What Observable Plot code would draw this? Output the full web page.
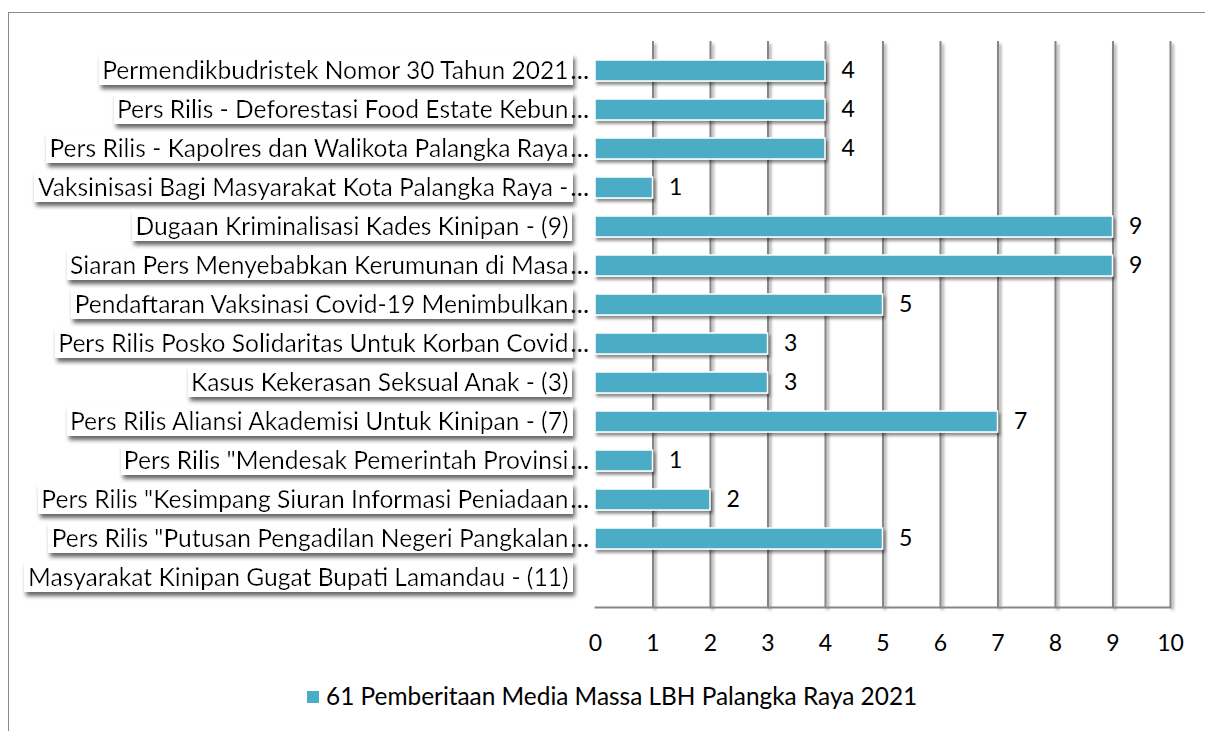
<!DOCTYPE html>
<html>
<head>
<meta charset="utf-8">
<script src="https://cdn.jsdelivr.net/npm/d3@7"></script>
<script src="https://cdn.jsdelivr.net/npm/@observablehq/plot@0.6"></script>
<style>
  html, body { margin: 0; padding: 0; background: #fff; overflow: hidden; width: 1205px; height: 731px; }
  #frame { position: absolute; left: 8px; top: 12px; width: 1210px; height: 740px; border: 1.5px solid #8a8a8a; box-sizing: border-box; }
  #chart { position: absolute; left: 0; top: 0; }
  #legend { position: absolute; left: 0; top: 681px; width: 1205px; font-family: Lato, sans-serif; font-size: 24.4px; color: #000; }
  #legend .sw { display: inline-block; width: 12px; height: 12px; background: #4BACC6; margin-right: 7px; vertical-align: 2px; }
</style>
</head>
<body>
<div id="frame"></div>
<div id="chart"></div>
<div id="legend"><span id="legtext" style="position:absolute; left:307px; top:0; white-space:nowrap"><span class="sw"></span></span></div>
<script>
const categories = [
  "Permendikbudristek Nomor 30 Tahun 2021…",
  "Pers Rilis - Deforestasi Food Estate Kebun…",
  "Pers Rilis - Kapolres dan Walikota Palangka Raya…",
  "Vaksinisasi Bagi Masyarakat Kota Palangka Raya -…",
  "Dugaan Kriminalisasi Kades Kinipan - (9)",
  "Siaran Pers Menyebabkan Kerumunan di Masa…",
  "Pendaftaran Vaksinasi Covid-19 Menimbulkan…",
  "Pers Rilis Posko Solidaritas Untuk Korban Covid…",
  "Kasus Kekerasan Seksual Anak - (3)",
  "Pers Rilis Aliansi Akademisi Untuk Kinipan - (7)",
  "Pers Rilis \"Mendesak Pemerintah Provinsi…",
  "Pers Rilis \"Kesimpang Siuran Informasi Peniadaan…",
  "Pers Rilis \"Putusan Pengadilan Negeri Pangkalan…",
  "Masyarakat Kinipan Gugat Bupati Lamandau - (11)"
];
const values = [4, 4, 4, 1, 9, 9, 5, 3, 3, 7, 1, 2, 5, null];
const xTicks = [0, 1, 2, 3, 4, 5, 6, 7, 8, 9, 10];
const seriesName = "61 Pemberitaan Media Massa LBH Palangka Raya 2021";

document.getElementById("legtext").appendChild(document.createTextNode(seriesName));

const data = categories.map((c, i) => ({label: c, value: values[i]}));
const barData = data.filter(d => d.value != null);
const truncated = data.filter(d => d.label.endsWith("…"));
const strip = s => s.replace(/…$/, "");
const strippedSet = new Set(categories.map(strip));

const W = 1205, H = 670;
const labelFont = 24.6;
const plot = Plot.plot({
  width: W,
  height: H,
  marginLeft: 595,
  marginRight: 35,
  marginTop: 41,
  marginBottom: H - 607,
  style: {fontFamily: "Lato, sans-serif", fontSize: "22px", color: "#000", background: "transparent", overflow: "visible"},
  x: {domain: [0, 10], ticks: xTicks, label: null},
  y: {domain: categories, padding: 0.45, axis: null},
  marks: [
    Plot.ruleX(xTicks.slice(1), {stroke: "#868686", strokeWidth: 2}),
    Plot.frame({anchor: "bottom", stroke: "#868686", strokeWidth: 2}),
    Plot.barX(barData, {x: "value", y: "label", fill: "#4BACC6", stroke: "#fff", strokeWidth: 1.5}),
    Plot.text(barData, {x: "value", y: "label", text: d => String(d.value), dx: 16, textAnchor: "start", fontSize: 23, fill: "#000"}),
    Plot.ruleX([0], {stroke: "#000", strokeWidth: 4}),
    Plot.axisX({ticks: xTicks, tickSize: 0, tickPadding: 27, fontSize: 23, tickFormat: d => String(d), label: null}),
    Plot.text(data, {y: "label", text: d => strip(d.label), frameAnchor: "left", dx: -27, textAnchor: "end", fontSize: labelFont, fill: "#000", lineWidth: 1000}),
    Plot.text(truncated, {y: "label", text: () => "…", frameAnchor: "left", dx: -25, textAnchor: "start", fontSize: labelFont, fill: "#000"})
  ]
});
document.getElementById("chart").appendChild(plot);

// Visual effects (shadows and label boxes)
const svg = d3.select(plot);
const defs = svg.insert("defs", ":first-child");
const sh = defs.append("filter").attr("id", "shadow").attr("x", "-20%").attr("y", "-20%").attr("width", "150%").attr("height", "160%");
sh.append("feDropShadow").attr("dx", 2).attr("dy", 3).attr("stdDeviation", 1.6).attr("flood-color", "#000").attr("flood-opacity", 0.45);

const lshadow = defs.append("filter").attr("id", "lshadow").attr("x", "-5%").attr("y", "-10%").attr("width", "110%").attr("height", "130%");
lshadow.append("feDropShadow").attr("dx", 2).attr("dy", 4).attr("stdDeviation", 2).attr("flood-color", "#000").attr("flood-opacity", 0.6);

const bg = defs.append("filter").attr("id", "whitebg").attr("x", "-0.006").attr("y", "-0.03").attr("width", "1.014").attr("height", "1.06");
bg.append("feFlood").attr("flood-color", "#fff").attr("result", "bg");
const mm = bg.append("feMerge");
mm.append("feMergeNode").attr("in", "bg");
mm.append("feMergeNode").attr("in", "SourceGraphic");

svg.selectAll('g[aria-label="bar"], g[aria-label="rule"], g[aria-label="frame"]').attr("filter", "url(#shadow)");
svg.selectAll('g[aria-label="text"]').filter(function() {
  const t = this.querySelector("text");
  return t && strippedSet.has(t.textContent);
}).attr("filter", "url(#lshadow)").selectAll("text").attr("filter", "url(#whitebg)");
</script>
</body>
</html>
